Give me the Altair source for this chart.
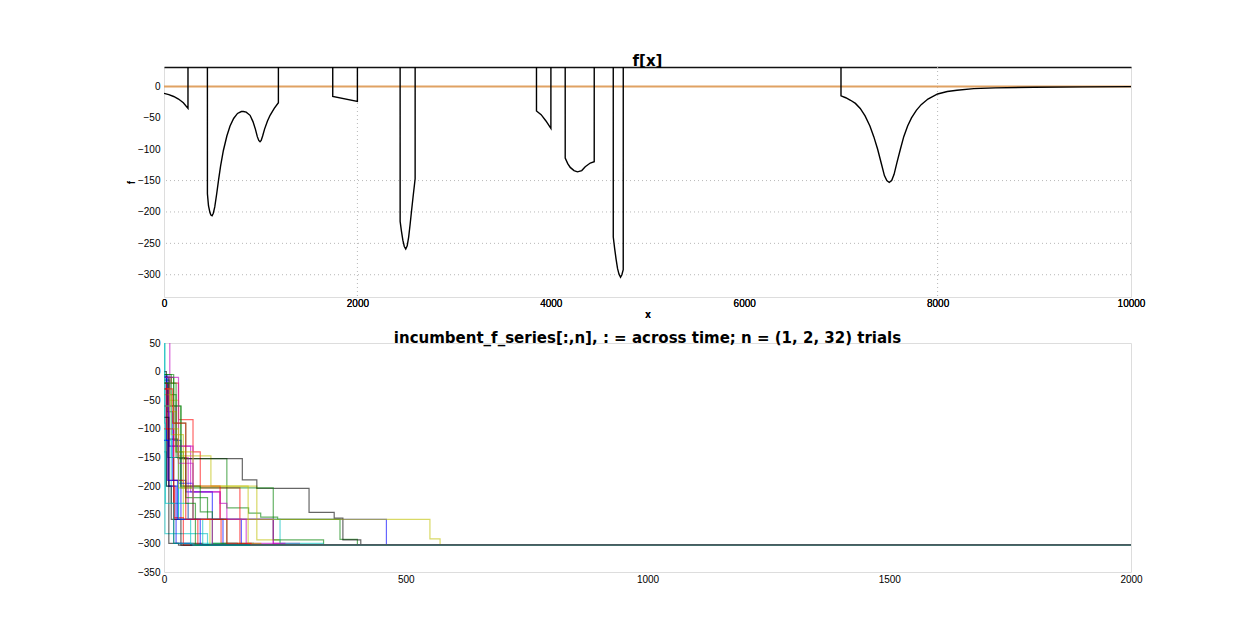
import altair as alt
import pandas as pd

TOP = 1000.0  # off-scale value of f inside the forbidden intervals (clipped)

# ---- f[x] (black curve) ----
f_x = [0, 50, 100, 150, 200, 248, 249,
       448, 449, 460, 475, 485, 497, 510, 525, 545, 565, 585, 614, 650, 683, 720, 760, 800, 821, 850, 890,
       920, 945, 965, 980, 993, 1005, 1020, 1040, 1070, 1097, 1140, 1183, 1184,
       1744, 1745, 2000, 2001,
       2441, 2442, 2455, 2470, 2485, 2500, 2515, 2530, 2545, 2560, 2575, 2597, 2598,
       3851, 3852, 3900, 3950, 4001, 4002,
       4148, 4149, 4175, 4201, 4240, 4276, 4320, 4356, 4408, 4449, 4450,
       4645, 4646, 4660, 4675, 4690, 4705, 4721, 4735, 4749, 4750,
       7000, 7001, 7050, 7100, 7150, 7200, 7250, 7300, 7340, 7380, 7420, 7450, 7475, 7500, 7525, 7550,
       7580, 7615, 7650, 7690, 7730, 7780, 7830, 7900, 8000, 8100, 8200, 8374, 8600, 9000, 9500, 10000]
f_y = [-11, -13, -16, -20, -26, -35, TOP,
       TOP, -171, -190, -201, -205, -206, -202, -192, -171, -148, -127, -102, -79, -63, -51, -43, -40, -40, -41, -46,
       -56, -68, -80, -86, -88, -86, -79, -68, -55, -46, -35, -26, TOP,
       TOP, -16, -24, TOP,
       TOP, -215, -230, -245, -255, -259, -254, -240, -220, -198, -177, -147, TOP,
       TOP, -39, -45, -55, -67, TOP,
       TOP, -114, -123, -129, -134, -136, -134, -128, -122, -120, TOP,
       TOP, -240, -258, -275, -290, -299, -304, -300, -292, TOP,
       TOP, -15, -18, -22, -27, -35, -47, -63, -80, -100, -124, -142, -150, -153, -150, -140,
       -121, -100, -80, -63, -50, -38, -29, -20, -12, -8, -6, -3.5, -2.2, -1.2, -0.6, -0.3]

# orange reference line
ref_x = [0, 10000]
ref_y = [0, 0]

# grid lines that are visible in the reference
grid_x = [2000, 8000]
grid_y = [-150, -200, -250, -300]

top_x_ticks = [0, 2000, 4000, 6000, 8000, 10000]
top_y_ticks = [0, -50, -100, -150, -200, -250, -300]
bot_x_ticks = [0, 500, 1000, 1500, 2000]
bot_y_ticks = [50, 0, -50, -100, -150, -200, -250, -300, -350]

# ---- incumbent_f_series: 32 trials, step breakpoints (time, value) ----
trial_t = [
    [0, 8, 20, 35, 460, 722],
    [0, 12, 25, 40, 130, 175, 200, 235, 364, 400],
    [0, 15, 30, 60, 75, 157, 200],
    [0, 2, 90],
    [0, 12, 25, 55, 116, 226, 280],
    [0, 10, 30, 97, 192, 240],
    [0, 10, 29, 162, 192, 300, 352, 370, 407],
    [0, 6, 18, 45, 100, 160],
    [0, 15, 35, 226, 330],
    [0, 8, 40, 116, 118, 152],
    [0, 5, 30, 240, 329],
    [0, 20, 50, 226, 250],
    [0, 15, 40, 550, 571],
    [0, 8, 20, 80],
    [0, 10, 30, 60, 122],
    [0, 20, 45, 90, 130, 185],
    [0, 10, 22, 70],
    [0, 15, 50, 80, 150],
    [0, 10, 60, 116, 130, 170, 226],
    [0, 12, 25, 60, 174, 200],
    [0, 5, 15, 35],
    [0, 5, 10, 25, 55],
    [0, 20, 35, 75, 100, 130],
    [0, 5, 20, 40],
    [0, 15, 30, 55],
    [0, 30, 60, 100],
    [0, 20, 30, 60, 95],
    [0, 10, 30],
    [0, 8, 28, 75],
    [0, 25, 45, 65],
    [0, 18, 45, 130, 180],
    [0, 1, 3, 20, 60],
]
trial_v = [
    [-5, -60, -120, -258, -302, -303],
    [-15, -40, -140, -152, -238, -247, -254, -258, -293, -303],
    [-10, -20, -84, -140, -203, -301, -303],
    [200, -283, -303],
    [120, -60, -130, -210, -258, -300, -303],
    [-20, -50, -147, -200, -294, -303],
    [-10, -118, -152, -189, -204, -246, -256, -294, -303],
    [-8, -70, -190, -210, -258, -303],
    [-5, -60, -203, -294, -303],
    [-30, -190, -200, -258, -300, -303],
    [-140, -200, -258, -300, -303],
    [-60, -150, -258, -300, -303],
    [-40, -110, -258, -292, -303],
    [-20, -150, -300, -303],
    [-60, -130, -195, -258, -303],
    [-10, -90, -220, -258, -300, -303],
    [-100, -200, -258, -303],
    [-120, -230, -258, -300, -303],
    [-30, -130, -210, -230, -258, -300, -303],
    [-30, -70, -140, -200, -300, -303],
    [0, -200, -258, -303],
    [-10, -120, -200, -300, -303],
    [-5, -60, -200, -245, -300, -303],
    [-20, -100, -255, -303],
    [-60, -150, -258, -303],
    [-10, -160, -258, -303],
    [-60, -100, -203, -258, -303],
    [-80, -300, -303],
    [-120, -190, -258, -303],
    [-20, -150, -230, -303],
    [-30, -90, -258, -300, -303],
    [80, -90, -230, -300, -303],
]
T_END = 2000
colors = ["#0000FF", "#008000", "#FF0000", "#00BFBF", "#BF00BF", "#BFBF00", "#000000"]

FONT = "DejaVu Sans"

# ---------------- top panel ----------------
f_df = pd.DataFrame({"x": f_x, "f": f_y})
ref_df = pd.DataFrame({"x": ref_x, "f": ref_y})
gx_df = pd.DataFrame({"x": grid_x})
gy_df = pd.DataFrame({"f": grid_y})

xs_top = alt.Scale(domain=[0, 10000], nice=False, zero=False)
ys_top = alt.Scale(domain=[-335.5, 31], nice=False, zero=False)

y_axis_top = alt.Axis(values=top_y_ticks, title="f", grid=False, ticks=False, domain=False,
                      labelFlush=False, labelPadding=4,
                      titleFontWeight="bold", titleFontSize=10, titlePadding=1)
x_axis_top = alt.Axis(values=top_x_ticks, title="x", grid=False, ticks=False, domain=False,
                      labelFlush=False, labelPadding=1, format="d",
                      titleFontWeight="bold", titleFontSize=10, titlePadding=1)

grid_style = dict(color="#b8b8b8", strokeDash=[1, 3], strokeWidth=1)
gx = alt.Chart(gx_df).mark_rule(**grid_style).encode(
    x=alt.X("x:Q", scale=xs_top, axis=alt.Axis(orient="top", labels=False, ticks=False, grid=False,
                                                title=None, domainColor="#111111", domainWidth=1.3)))
gy = alt.Chart(gy_df).mark_rule(**grid_style).encode(
    y=alt.Y("f:Q", scale=ys_top, axis=y_axis_top))

ref = alt.Chart(ref_df).mark_line(color="#E0A263", strokeWidth=2, clip=True).encode(
    x=alt.X("x:Q", scale=xs_top, axis=x_axis_top),
    y=alt.Y("f:Q", scale=ys_top, axis=y_axis_top))

fline = alt.Chart(f_df).mark_line(color="#000000", strokeWidth=1.4, clip=True).encode(
    x=alt.X("x:Q", scale=xs_top, axis=x_axis_top),
    y=alt.Y("f:Q", scale=ys_top, axis=y_axis_top),
    order="idx:Q",
).transform_window(idx="row_number()")

top = alt.layer(gx, gy, ref, fline).resolve_axis(x="independent").properties(
    width=967, height=230,
    title=alt.TitleParams("f[x]", fontSize=15, fontWeight="bold", font=FONT, offset=-2, anchor="middle"))

# ---------------- bottom panel ----------------
rows = []
for i, (ts, vs) in enumerate(zip(trial_t, trial_v)):
    pts = list(zip(ts, vs)) + [(T_END, vs[-1])]
    for k, (t, v) in enumerate(pts):
        rows.append({"trial": i, "t": t, "v": v, "k": k})
tr_df = pd.DataFrame(rows)

bottom = alt.Chart(tr_df).mark_line(interpolate="step-after", strokeWidth=1.2, opacity=0.6, clip=True).encode(
    x=alt.X("t:Q", scale=alt.Scale(domain=[0, 2000], nice=False),
            axis=alt.Axis(values=bot_x_ticks, title=None, grid=False, ticks=False, domain=False,
                          labelFlush=False, labelPadding=2, format="d")),
    y=alt.Y("v:Q", scale=alt.Scale(domain=[-350, 50], nice=False, zero=False),
            axis=alt.Axis(values=bot_y_ticks, title=None, grid=False, ticks=False, domain=False,
                          labelFlush=False, labelPadding=4)),
    color=alt.Color("trial:N", scale=alt.Scale(domain=list(range(len(trial_t))),
                                               range=[colors[i % 7] for i in range(len(trial_t))]),
                    legend=None),
    order="k:Q",
).properties(
    width=967, height=229,
    title=alt.TitleParams("incumbent_f_series[:,n], : = across time; n = (1, 2, 32) trials",
                          fontSize=15, fontWeight="bold", font=FONT, offset=-8, anchor="middle"))

chart = alt.vconcat(top, bottom, spacing=10).properties(
    padding={"left": 117, "top": 45, "right": 5, "bottom": 5}
).configure_view(stroke="#d4d4d4").configure_axis(
    labelFont=FONT, titleFont=FONT, labelFontSize=10, labelColor="#222222", titleColor="#111111"
).configure(background="white")

chart.save("out.html", embed_options={"renderer": "svg", "actions": False})
